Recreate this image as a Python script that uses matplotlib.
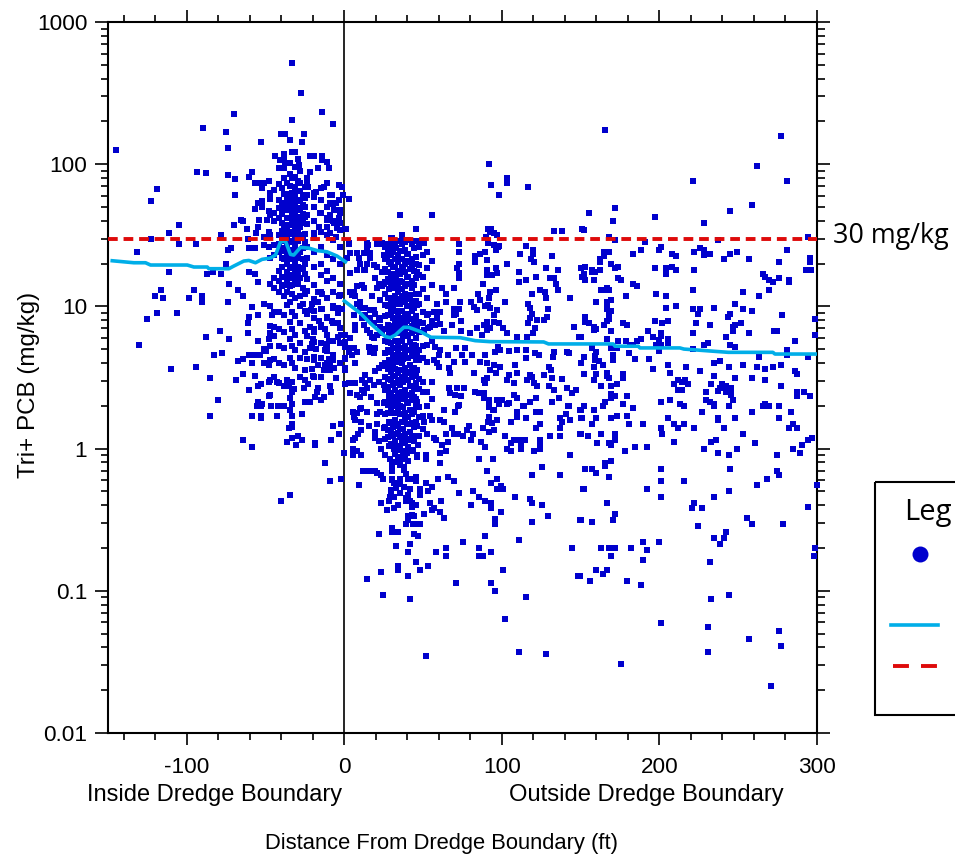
import numpy as np
import matplotlib
matplotlib.use('Agg')
import matplotlib.pyplot as plt
from matplotlib.patches import Rectangle
from matplotlib.ticker import LogLocator, NullFormatter, MultipleLocator

plt.rcParams['font.family'] = ['Liberation Sans', 'DejaVu Sans']
plt.rcParams['axes.unicode_minus'] = False

# all sample readings are (distance ft, log10 of Tri+ PCB mg/kg)
inside_points = [
(-32.9,2.71),(-27.8,2.50),(-13.9,2.366),(-70.3,2.353),(-32.9,2.31),(-6.9,2.282),(-89.4,2.254),(-75.4,2.226),
(-40.5,2.212),(-37.4,2.212),(-25.3,2.212),(-34.2,2.17),(-26.6,2.156),(-53.2,2.156),(-74.1,2.113),(-145.2,2.10),
(-44.3,2.057),(-38,2.07),(-38,2.04),(-33.1,2.088),(-31,2.088),(-29.1,2.04),(-21.5,2.057),(-19,2.057),(-13.9,2.057),
(-13.9,2.03),(-11,2.017),(-9.7,1.975),(-16.4,1.975),(-41,2.03),(-37.4,2.006),(-34.2,2.006),(-28.9,1.994),
(-41.6,1.975),(-21.5,1.947),(-58.9,1.947),(-93.2,1.947),(-88.1,1.94),(-74.1,1.924),(-60.2,1.91),(-69.1,1.895),
(-119.2,1.825),(-69.1,1.783),(-123,1.74),(-105.2,1.572),(-111.6,1.516),(-123,1.474),(-78.2,1.50),(-105.2,1.438),
(-94.4,1.438),(-131.9,1.382),(-74.1,1.396),(-71.8,1.41),(-60.2,1.41),(-57,1.41),(-61.2,1.474),(-75.4,1.298),
(-111.6,1.242),(-87,1.227),(-83.2,1.242),(-78.2,1.227),(-60.2,1.242),(-56.4,1.227),(-72.9,1.157),(-55.1,1.17),
(-67.8,1.115),(-64,1.073),(-116.6,1.115),(-120.4,1.073),(-115.4,1.06),(-95.7,1.115),(-98.9,1.06),(-90.6,1.073),
(-90.6,1.03),(-74.1,1.03),(-58.9,.993),(-50.7,1.016),(-65.3,1.61),(-64,1.60),(-61.5,1.544),(-70.3,1.572),
(-55,1.56),(-54.3,1.61),(-55.8,1.513),(-51,1.49),(-47.9,1.525),(-56.4,1.685),(-54.9,1.724),(-52.2,1.743),
(-52,1.70),(-46.9,1.755),(-47.9,1.67),(-56.4,1.87),(-53.2,1.87),(-51.1,1.87),(-48.1,1.884),(-52,1.835),
(-49,1.61),(-51,1.43),(-48,1.415),(-3.1,1.853),(-1.6,1.84),(-8.8,1.783),(-7.6,1.783),(-.8,1.783),
(-3.3,1.748),(-5.6,1.724),(-8.8,1.724),(-10.9,1.865),(-12.6,1.84),(-15,1.83),(-17.7,1.806),(-19.4,1.77),
(-23.6,1.90),(-22.8,1.84),(-2.5,1.678),(-2.5,1.584),(-6.7,1.678),(-8.8,1.642),(-3.7,1.62),(-6.7,1.584),
(-4.6,1.55),(-11,1.56),(-8.8,1.513),(-5.6,1.49),(-15.2,1.654),(-11,1.607),(-16.2,1.56),(-19.4,1.513),
(-119.2,.953),(-106.5,.953),(-125.5,.911),(-60.2,.925),(-61.4,.883),(-54.5,.939),(-45.6,.939),(-79.2,.827),
(-61.4,.813),(-88.1,.785),(-72.9,.77),(-54.5,.756),(-130.6,.728),(-48.1,.77),(-47,.815),(-44.9,.852),
(-50.7,.70),(-49.8,.686),(-53.4,.658),(-83,.658),(-77.9,.672),(-64,.63),(-67.8,.616),(-60.8,.658),(-57.6,.658),
(-58.9,.60),(-50.7,.60),(-48.1,.588),(-110.3,.56),(-94.4,.573),(-85.5,.496),(-69,.482),(-64,.524),(-56.4,.51),
(-53.2,.454),(-54.5,.44),(-60.2,.412),(-48.1,.468),(-43,.468),(-48.1,.37),(-80.5,.341),(-54.5,.327),(-52,.313),
(-55.5,.30),(-53.2,.30),(-46.8,.30),(-41.8,.30),(-38,.30),(-85.5,.229),(-58.9,.229),(-53.2,.229),(-53.2,.213),
(-43,.229),(-32.9,.229),(-26.6,.243),(-32.9,.313),(-34.2,.27),(-34.2,.353),(-33.3,.40),(-32,.416),(-22.8,.33),
(-24.9,.33),(-21.7,.33),(-18.5,.36),(-15.1,.34),(-12.6,.36),(-17.5,.40),(-16.4,.428),(-9.4,.44),(-8.2,.40),
(-32.9,.172),(-32.9,.153),(-35.4,.145),(-6.9,.158),(-1.8,.172),(-3.1,.102),(-32.9,.074),(-29.1,.088),(-26.6,.06),
(-36.7,.046),(-30.4,.025),(-18.9,.036),(-18.9,.022),(-8.2,.06),(-64,.06),(-58.9,.011),(-.5,-.03),(-12,-.10),
(-9.4,-.228),(-1.8,-.214),(-34.2,-.327),(-40.5,-.37),(-5.6,.496),(-20.2,.51),(-22.8,.454),(-24.9,.482),
(-36.7,.482),(-38,.44),(-35.4,.44),(-25.3,.425),(-13.2,.552),(-9,.552),(-6.3,.564),(-12.2,.587),(-9,.594),
(-10,.63),(-7.5,.62),(-19.2,.646),(-16.8,.587),(-20.6,.56),(-12.2,.693),(-10.9,.688),(-18,.70),(-11.8,.735),
(-9.6,.758),(-20.6,.735),(-21.7,.705),(-20.2,.77),(-4.3,.784),(-2.2,.80),(-12.2,.84),(-19,.84),(-21.7,.857),
(-15.1,.852),(-4.3,.883),(-8,.897),(-10.7,.925),(-15.8,.897),(-4.3,.951),(-6.9,.988),(-4.1,.988),(-1.6,.98),
(-13.9,.98),(-19.2,.967),(-21.4,.974),(-16.4,1.03),(-20.6,1.017),(-3.7,1.073),(-14.3,1.087),(-16.4,1.10),
]

# dense cloud just inside the boundary
inside_core_x = [-47,-44.5,-41.5,-39.7,-38,-36.4,-34.7,-33,-31,-29.7,-28,-26.4,-25,-23.5,-19,-15,-11,-7,-3]
inside_core_log = [
[1.80,1.64,1.50,1.34,1.16,1.00,.86,.72,.62,.48,.38],
[1.82,1.66,1.60,1.43,1.36,1.20,1.13,.96,.79,.63,.50],
[1.86,1.75,1.69,1.62,1.50,1.44,1.38,1.25,1.18,1.10,.96,.84,.72,.60,.46],
[1.83,1.72,1.65,1.59,1.53,1.47,1.41,1.34,1.28,1.21,1.14],
[1.97,1.90,1.79,1.73,1.68,1.57,1.51,1.46,1.39,1.33,1.21,1.15,1.07,.94,.82,.71,.59,.44],
[1.87,1.76,1.70,1.62,1.55,1.49,1.43,1.36,1.30,1.24,1.18,1.10,1.01],
[1.93,1.85,1.79,1.74,1.68,1.62,1.57,1.51,1.45,1.38,1.33,1.27,1.20,1.14,1.03,.89,.77,.64],
[1.90,1.80,1.75,1.70,1.64,1.58,1.52,1.46,1.40,1.34,1.28,1.22,1.15,1.09,.96,.84,.72,.60,.47],
[1.98,1.91,1.84,1.78,1.72,1.66,1.61,1.55,1.49,1.42,1.37,1.31,1.25,1.19,1.06,.93,.80,.69,.57],
[1.88,1.81,1.75,1.69,1.63,1.58,1.52,1.46,1.39,1.34,1.28,1.22,1.16],
[1.95,1.87,1.81,1.74,1.68,1.62,1.56,1.50,1.38,1.26,1.20,1.07,1.00,.88,.74,.64,.50],
[1.78,1.71,1.65,1.59,1.48,1.41,1.33,1.27,1.13,1.02],
[1.84,1.76,1.70,1.63,1.51,1.45,1.30,1.23,1.09,.97,.83,.68,.55],
[1.86,1.78,1.64,1.58,1.42,1.34,1.19,1.11,.95,.79,.63],
[1.80,1.70,1.60,1.48,1.38,1.28,1.15,1.05,.92,.82,.75,.62,.50],
[1.75,1.66,1.52,1.42,1.30,1.22,1.10,.98,.87,.74,.64,.50],
[1.70,1.62,1.50,1.36,1.25,1.18,1.06,.92,.80,.72,.60],
[1.72,1.60,1.47,1.33,1.20,1.10,1.00,.88,.76,.66],
[1.66,1.54,1.42,1.30,1.16,1.08,.98,.85,.74,.60],
]

near_points = [
(52,-1.46),(111,-1.43),(128,-1.444),(102,-1.20),(115.4,-1.043),(41.9,-1.057),(24.7,-1.03),(95.8,-1.00),(93.2,-.945),
(71,-.945),(14.6,-.917),(148.4,-.896),(40.6,-.896),(23.5,-.868),(34.2,-.825),(34.2,-.853),(48.2,-.853),(53.3,-.825),
(45.7,-.797),(100.8,-.853),(64.7,-.755),(85.6,-.755),(88.2,-.755),(40.6,-.727),(58.4,-.727),(93.2,-.727),(33,-.685),
(41.9,-.67),(64.7,-.70),(85.6,-.70),(144.6,-.70),(75.5,-.657),(111,-.643),(89.4,-.614),(22.2,-.60),(30.4,-.558),
(30.4,-.586),(32.3,-.586),(34.2,-.586),(44.4,-.60),(46.9,-.614),(39.3,-.53),(43.8,-.53),(46.3,-.53),(48.2,-.53),
(40.6,-.502),(43.1,-.467),(40.2,-.474),(44.4,-.474),(50.7,-.46),(63.4,-.488),(60.9,-.446),(95.8,-.495),(95.8,-.53),
(119.2,-.516),(129.4,-.474),(149.7,-.502),(99.6,-.446),(26.8,-.434),(31.7,-.417),(34.2,-.396),(23.5,-.382),(28.5,-.368),
(43.1,-.41),(45.7,-.396),(43.1,-.382),(39.3,-.368),(41.9,-.368),(54.5,-.382),(55.8,-.432),(57,-.415),(61.5,-.368),
(80.5,-.396),(93.2,-.382),(93.2,-.417),(119.2,-.382),(118,-.354),(125.6,-.396),(89.4,-.368),(85.6,-.34),(108.5,-.34),
(29.2,-.34),(31.7,-.34),(40.6,-.326),(39.3,-.35),(48.2,-.326),(73,-.312),(81.8,-.298),(97,-.284),(99.6,-.263),(100.8,-.284),
(151.6,-.284),(29.8,-.29),(29.8,-.32),(33,-.28),(35.5,-.31),(41.9,-.284),(38,-.267),(48.2,-.284),(53.3,-.298),(55.8,-.27),
(9.5,-.256),(52,-.242),(35.5,-.249),(31.7,-.24),(30.4,-.22),(93.2,-.242),(24.7,-.214),(30.4,-.214),(35.5,-.214),(40.6,-.214),
(45.7,-.2),(45.7,-.228),(43,-.214),(59.6,-.214),(66,-.2),(69.8,-.228),(97,-.214),(119.2,-.186),(137,-.186),(90.7,-.157),
(125.6,-.13),(12,-.157),(14.6,-.157),(17.1,-.157),(19.7,-.157),(20.9,-.171),(23.5,-.186),(30.4,-.157),(38,-.15),(39.3,-.178),
(30.4,-.115),(35.5,-.115),(38,-.127),(60.9,-.10),(40.6,-.087),(29.2,-.073),(31.7,-.094),(34.9,-.057),(85.6,-.073),(94.5,-.073),
(143.3,-.045),(5.7,-.045),(10.8,-.045),(26,-.045),(46.3,-.045),(52,-.045),(52,-.073),(46.3,-.061),(60.9,-.03),(5.7,-.003),
(8.2,-.017),(23.5,-.003),(31.7,-.003),(35.5,.014),(40.2,-.014),(43.3,-.01),(64.7,-.017),(103.4,-.003),(106,-.017),(112.3,-.003),
(112.3,.018),(120.5,-.017),(124.3,-.003),(89.4,.01),(62.2,.026),(66,.044),(47,.026),(86.9,.047),(105.7,.04),(107.8,.06),
(111,.06),(114.8,.06),(124.3,.06),(124.3,.04),(5.7,.06),(7,.077),(19.7,.075),(22.2,.05),(57,.077),(58.4,.06),(80.5,.06),
(75.5,.09),(81.8,.10),(102,.09),(130.7,.09),(137,.09),(149.7,.10),(64.7,.10),(69.8,.10),(72.3,.10),(8.9,.10),(10.8,.13),
(19.7,.117),(78,.13),(79.3,.16),(88.2,.145),(92,.117),(95,.13),(121.8,.145),(124.3,.173),(137,.145),(68.5,.145),(15.9,.16),
(21,.173),(25.4,.143),(50.7,.187),(55.8,.20),(60.9,.20),(63.4,.187),(54.5,.23),(92,.22),(91,.187),(94,.178),(97,.20),(106,.187),
(115.4,.215),(137,.215),(138.3,.187),(143.3,.20),(150.5,.215),(109.7,.258),(109.7,.23),(121.8,.258),(140.8,.244),(149.7,.27),
(142,.30),(113.5,.30),(92,.30),(94.5,.27),(98.3,.314),(103.4,.314),(118,.328),(131.9,.328),(72.3,.30),(70.4,.258),(63.4,.27),
(5.7,.258),(8.2,.25),(7,.20),(10.6,.187),(10.8,.286),(14.6,.258),(21,.244),
# upper half of the same band
(92,2.0),(103.4,1.903),(103.4,1.87),(93.2,1.854),(116.7,1.84),(98.3,1.784),(3.2,1.755),(3,1.755),(35.6,1.642),(35.5,1.643),
(55.8,1.643),(45.7,1.544),(1,1.544),(.7,1.544),(90.9,1.544),(93.4,1.544),(133.2,1.53),(138.3,1.53),(151,1.544),(90,1.49),
(92.4,1.52),(94.7,1.514),(97,1.50),(29.6,1.48),(73,1.44),(115.2,1.425),(91.3,1.448),(95.1,1.43),(97.3,1.42),(21,1.44),
(24.3,1.44),(14.8,1.43),(3.2,1.44),(37,1.47),(50.7,1.444),(49,1.46),(30,1.48),(98,1.425),(96,1.40),(73,1.38),(119.7,1.40),
(119.7,1.37),(118.4,1.33),(120.5,1.315),(111.7,1.37),(132,1.355),(89.5,1.38),(86.3,1.37),(83,1.355),(83,1.315),(90.7,1.327),
(103.4,1.30),(73,1.30),(71.5,1.27),(73,1.233),(73,1.20),(90.7,1.256),(90.7,1.22),(96,1.27),(97,1.233),(93.7,1.22),(111,1.242),
(128,1.27),(135.8,1.256),(121.8,1.21),(115.5,1.186),(111,1.17),(130.7,1.20),(133,1.20),(134.5,1.158),(135.8,1.116),(88.2,1.158),
(69.8,1.13),(62.2,1.13),(64.7,1.088),(96,1.116),(92.6,1.104),(91.6,1.057),(91,1.01),(84.6,1.088),(86,1.045),(80.4,1.03),(82,.994),
(84.2,.975),(119.3,1.088),(124.4,1.116),(127.5,1.104),(128,1.057),(143.4,1.06),(102,1.03),(89.5,1.003),(92.6,.987),(97,.975),
(94.7,.94),(116.7,1.017),(118,.987),(118.8,.95),(118,.916),(116.7,.88),(129.4,.982),(69.8,.982),(72.5,.982),(71,.95),(69.4,.94),
(64.7,1.03),(73.2,1.03),(58.8,1.02),(61,.963),(56.7,.963),(53,.95),(58.8,.916),(74.2,.898),(68.5,.87),(61,.877),(57.8,.87),
(54.6,.858),(50.4,.834),(53,.846),(63.5,.827),(74.2,.827),(79.5,.813),(90.5,.893),(94.7,.893),(98,.88),(88.4,.87),(84.2,.846),
(87.4,.80),(92.6,.846),(90.5,.834),(101,.846),(103.2,.81),(109.5,.788),(116,.788),(122,.905),(126.5,.905),(128.6,.928),(121.2,.846),
(119.7,.81),(146,.855),(149,.788),(133,.677),(132.4,.642),(141.3,.68),(142.3,.67),(109.5,.694),(115,.694),(115,.635),(104.7,.687),
(121,.67),(123.3,.66),(108.5,.588),(129.6,.577),(131,.553),(97.7,.717),(98.6,.694),(95.8,.68),(89.5,.66),(86.3,.61),(90.5,.60),
(94.7,.588),(99,.577),(92.6,.553),(96,.53),(90.5,.495),(88.4,.483),(89.5,.46),(71,.705),(76.8,.705),(74.7,.66),(81,.66),(76.8,.61),
(66,.66),(69.4,.61),(66.2,.565),(67.3,.53),(82,.532),(57.8,.717),(61,.694),(60,.66),(56.7,.623),(58.8,.60),(60,.577),(104.3,.516),
(109.5,.53),(103.2,.483),(107.4,.46),(118,.516),(119,.505),(126.5,.516),(116,.483),(120.1,.46),(131.7,.495),(138.1,.487),(122.2,.443),
(129.6,.443),(132.8,.41),(141.3,.424),(144.4,.39),(147.2,.41),(66.2,.424),(71.5,.424),(75.7,.424),(67.3,.39),(70.4,.377),(74,.37),
(83,.40),(88.4,.39),(85.2,.39),(88.4,.354),(91.6,.342),(97,.342),(100,.342),(104.3,.32),(107.4,.377),(109.5,.354),(113.8,.302),
(118,.33),(121.8,.354),(131.7,.33),(136,.358),(142.3,.302),(91.6,.295),(94.7,.27),(109.5,.26),(109.5,.225),(122.2,.26),(124.4,.26),
(70.4,.26),(72.5,.306),
# flank between the boundary and the dense column
(2.8,1.444),(14.4,1.444),(14.4,1.41),(20.8,1.444),(24,1.444),(3.8,1.374),(8,1.374),(12.3,1.374),(16.5,1.374),(1.7,1.338),(9,1.338),
(16.5,1.338),(10.2,1.30),(14.4,1.30),(18.6,1.29),(20.8,1.28),(12.3,1.256),(8,1.256),(3.8,1.233),(13.4,1.256),(19.7,1.20),(24,1.245),
(27,1.35),(25,1.36),(24,1.14),(21.8,1.16),(25,1.16),(20.8,1.13),(8,1.14),(11.2,1.15),(12.3,1.127),(6,1.104),(3.8,1.104),(7,1.07),
(5,1.08),(17.6,1.07),(22.8,1.045),(10.2,1.034),(8,1.02),(13.4,.987),(10.2,.987),(18.6,.975),(16.5,.975),(19.7,.95),(13.4,.94),
(16.5,.916),(11.2,.916),(6,.94),(21.8,.916),(18.6,.88),(7,.87),(7,.834),(12.3,.87),(14.4,.834),(16.5,.81),(18.6,.775),(20.8,.80),
(3.8,.775),(17.6,.788),(22.8,.857),(22.8,.905),(24,.81),(.7,.80),(.7,.75),(.7,.635),(.7,.55),(3.8,.705),(2.8,.68),(6,.705),(8,.68),
(5,.66),(15.5,.717),(16.5,.68),(19.7,.705),(18.6,.67),(7,.60),(19.7,.548),(24,.588),(26,.60),(21.8,.565),(13.4,.517),(11.2,.483),
(13.4,.46),(16.5,.483),(21.8,.47),(2.8,.46),(7,.46),(11.2,.41),(14.4,.424),(18.6,.448),(25,.448),(3.8,.39),(8,.377),(12.3,.39),
(10.2,.366),(17,.36),(20.8,.32),(25,.32),(10.2,.28),(5.5,.26),(6.4,.225),(14.4,.26),(22.8,.26),(.6,.454),(.7,.552),(.7,.57),(.7,.63),
(.7,.752),(.7,.716),
]

# dense column just outside the boundary
near_core_x = [25.5,27.5,28.6,29.7,31,32,33,34.1,35.2,36.3,37.4,38.5,39.6,40.7,41.8,43,44.1,45.2,46.4,47.5,50,52.5,55.5]
near_core_log = [
[1.42,1.33,1.26,1.17,1.09,1.01,.93,.84,.76,.67,.58,.50,.41,.33,.24,.15,.07],
[1.38,1.24,1.19,1.06,1.00,.94,.87,.75,.69,.56,.49,.43,.31,.25,.13,.08],
[1.44,1.31,1.12,.81,.62,.37,.19,.02],
[1.41,1.36,1.30,1.20,1.15,1.04,.99,.95,.84,.79,.74,.68,.58,.54,.48,.39,.33,.28,.18,.12,.03],
[1.38,1.28,1.23,1.17,1.06,1.01,.92,.86,.81,.71,.65,.60,.51,.45,.36,.30,.25,.15,.09],
[1.44,1.33,1.28,1.18,1.13,1.07,.97,.91,.87,.76,.71,.61,.56,.51,.41,.35,.25,.20,.10,.05,-.04],
[1.41,1.21,1.02,.82,.66,.46,.31,.16,.01],
[1.46,1.36,1.31,1.25,1.15,1.10,1.05,.94,.90,.84,.73,.69,.64,.53,.48,.37,.33,.27,.17,.11,.02,-.08],
[1.39,1.33,1.23,1.18,1.12,1.02,.97,.87,.81,.76,.66,.61,.55,.45,.39,.30,.24,.14,.08,-.01],
[1.50,1.44,1.33,1.28,1.17,1.12,1.07,.97,.92,.86,.76,.71,.60,.55,.50,.40,.35,.24,.19,.09,.04,-.07],
[1.39,1.26,1.05,.90,.79,.63,.47,.29,.14,-.02],
[1.45,1.40,1.30,1.24,1.14,1.09,1.03,.93,.88,.83,.72,.67,.57,.51,.41,.36,.25,.20,.10,.05,-.05],
[1.37,1.32,1.21,1.16,1.06,1.00,.90,.85,.80,.69,.64,.54,.48,.38,.33,.22,.17,.07,-.03],
[1.47,1.37,1.31,1.21,1.16,1.05,1.00,.95,.85,.79,.69,.64,.53,.48,.38,.32,.22,.17,.06,.01],
[1.26,1.08,.91,.75,.59,.44,.27,.12],
[1.44,1.33,1.28,1.18,1.13,1.02,.97,.86,.81,.71,.65,.55,.50,.39,.34,.24,.18,.08,-.02],
[1.41,1.30,1.25,1.15,1.04,.99,.89,.83,.73,.68,.57,.52,.42,.36,.26,.15,.05],
[1.46,1.35,1.30,1.20,1.09,1.04,.93,.88,.78,.72,.62,.51,.46,.35,.30,.19,.09],
[1.24,1.01,.85,.66,.55,.33,.16],
[1.42,1.29,1.22,1.09,1.02,.89,.82,.69,.62,.49,.42,.29,.22,.09],
[1.45,1.36,1.21,1.12,.96,.88,.72,.64,.47,.40,.23,.14],
[1.38,1.27,1.06,.94,.73,.61,.40,.30,.10],
[1.32,1.15,.90,.76,.47,.35],
]

far_points = [
(165.5,2.24),(277,2.20),(262,1.99),(221,1.88),(281,1.88),(259,1.71),(245,1.67),(172,1.69),(155,1.66),(170.5,1.60),(197,1.63),(228,1.59),
(152,1.54),(168,1.49),(172,1.47),(191,1.45),(237,1.47),(294,1.49),(201,1.42),(200,1.40),(188,1.40),(165,1.38),(168,1.38),(165,1.355),
(183,1.37),(208,1.37),(210.5,1.355),(222,1.38),(226,1.41),(228,1.40),(228,1.36),(232,1.37),(245,1.37),(249,1.38),(281,1.40),(162,1.33),
(162,1.31),(241,1.33),(257,1.33),(276,1.31),(295.5,1.34),(295.5,1.31),(153,1.28),(150.5,1.27),(169,1.30),(172,1.27),(174,1.28),(197,1.27),
(208,1.28),(204,1.27),(204,1.255),(204,1.23),(210.5,1.255),(222,1.255),(157,1.255),(157,1.24),(159,1.24),(162,1.255),(152,1.23),(150.6,1.21),
(153,1.185),(158.5,1.185),(174,1.20),(175.6,1.185),(183,1.16),(186,1.14),(266,1.23),(267,1.21),(269.5,1.185),(272,1.17),(276,1.20),(282,1.185),
(282,1.17),(293,1.255),(296,1.255),(163,1.115),(165,1.115),(168,1.115),(167,1.13),(179,1.07),(198,1.09),(204,1.07),(221,1.115),(253,1.10),
(263,1.07),(269.5,1.115),(160,1.03),(167,1.03),(169,1.045),(167,1.00),(167,.98),(169,.97),(204,.99),(210.5,1.00),(221,.98),(224.5,.95),(226,.98),
(234.6,.99),(248,1.02),(253,.98),(259,.97),(278,.94),(245,.95),(243.5,.925),(168,.94),(168,.91),(167,.90),(153,.925),(153,.89),(155,.88),(165,.87),
(177,.88),(179.4,.87),(197,.90),(201.6,.88),(205.4,.90),(223,.88),(232,.87),(248,.87),(252,.88),(246.6,.855),(246.6,.83),(299,.91),(158.5,.855),
(158.5,.835),(160,.84),(169,.83),(193,.83),(201,.81),(201,.79),(221,.81),(257,.81),(273,.83),(274.6,.83),(299,.80),(150,.785),(196,.785),(242,.785),
(167,.77),(174,.757),(179,.757),(186,.757),(188,.77),(200,.765),(205.4,.77),(205.4,.74),(286,.757),(231,.74),(228,.73),(245,.73),(248,.715),(181,.73),
(183,.73),(198,.73),(201,.73),(157,.71),(169,.71),(173,.71),(221,.70),(281,.69),
(152,.644),(159,.65),(159,.62),(160,.68),(170.5,.66),(170.5,.62),(180.7,.67),(161.6,.616),(150,.60),(184.5,.63),(193.4,.63),(200,.686),(164,.59),
(158.5,.573),(196,.56),(205.4,.587),(217,.573),(225.7,.545),(234.6,.60),(238.4,.616),(244,.573),(253,.587),(262,.573),(267,.56),(272,.573),(277,.587),
(286,.545),(287,.524),(263,.644),(294,.644),(281,.66),(152,.524),(160,.524),(167,.53),(167,.51),(168,.496),(177,.524),(177,.496),(158.5,.48),(206.7,.53),
(234.6,.51),(248,.496),(259,.496),(267,.48),(163,.44),(169,.44),(173,.454),(209,.454),(212,.48),(216,.48),(214.3,.468),(218,.454),(212,.412),(214.3,.412),
(233,.454),(239.7,.454),(242,.44),(238.4,.426),(237,.405),(245.4,.426),(245.4,.398),(242,.398),(245.4,.377),(229.5,.398),(277,.44),(287,.398),(287,.37),
(291.7,.398),(295.5,.37),(169,.384),(169,.355),(172,.37),(179.4,.37),(165.5,.327),(164,.30),(177,.313),(183,.285),(152,.30),(150,.27),(158.5,.27),
(201,.327),(206.7,.34),(213,.313),(215.6,.30),(229.5,.34),(232,.327),(234.6,.313),(234.6,.30),(246.6,.34),(244,.30),(265.7,.30),(267,.313),(269.5,.30),
(276,.30),(227,.257),(259,.257),(283.4,.257),(151,.215),(160,.215),(169,.215),(173,.229),(179.4,.229),(205.4,.215),(237,.215),(237,.20),(248,.215),
(276,.215),(157,.173),(180.7,.173),(189.6,.173),(209,.173),(211.8,.145),(215.6,.173),(201,.145),(201.6,.10),(222,.145),(241,.145),(284.7,.173),(282,.145),
(287,.145),(150,.10),(154.7,.088),(163,.10),(172,.10),(172,.06),(253,.10),(160.4,.04),(168,.04),(169,.025),(209,.046),(236,.06),(233,.046),(260.6,.04),
(296.7,.074),(294,.06),(290.4,.025),(184.5,.011),(192,.011),(178,-.017),(228,-.003),(249,-.003),(284.7,-.003),(237,-.03),(244,-.045),(274.5,-.045),
(289,-.03),(169,-.088),(165.5,-.10),(165.5,-.123),(153,-.144),(157,-.144),(160,-.172),(201,-.144),(245,-.144),(274.5,-.158),(276,-.186),(168,-.20),
(268,-.214),(201,-.228),(215.6,-.228),(262,-.256),(152,-.285),(192,-.285),(300,-.256),(244,-.298),(201,-.34),(234.6,-.34),(166.7,-.383),(222,-.383),
(220.6,-.418),(227,-.418),(294,-.411),(172,-.46),(255.5,-.488),(150,-.50),(157,-.517),(170.5,-.50),(259,-.53),(278.4,-.53),(224.5,-.545),(242,-.587),
(234.6,-.63),(241,-.63),(238.4,-.67),(189.6,-.657),(199.7,-.657),(163,-.70),(168,-.70),(172,-.70),(182,-.70),(192,-.713),(299,-.70),(298,-.756),
(169,-.756),(189.6,-.784),(232,-.80),(160,-.854),(166.7,-.854),(164,-.882),(149.6,-.896),(156,-.93),(179.4,-.93),(188,-.96),(244,-1.03),(233,-1.058),
(201,-1.227),(231,-1.255),(276,-1.283),(257,-1.34),(277,-1.39),(231,-1.43),(175.6,-1.515),(270.7,-1.67),
]

# moving geometric mean, one line each side of the boundary
inside_mean_x = [-147.3,-133.6,-126.2,-123,-99.7,-95.5,-87,-86,-73.3,-70.1,-63.8,-60.6,-56.4,-52.2,-46.9,-43.7,-40.5,-37.4,-34.2,-32.1,-27.8,-22.6,-17.2,-11,-4.6,.7]
inside_mean_log = [1.321,1.307,1.307,1.291,1.291,1.277,1.277,1.265,1.265,1.284,1.319,1.323,1.307,1.331,1.34,1.361,1.455,1.46,1.366,1.361,1.415,1.41,1.392,1.384,1.354,1.314]
outside_mean_x = [0,10.2,16.5,26,29.2,32.4,37.7,40.8,48.2,55,73.6,83.1,92.6,126.5,129.6,170.7,171.8,186.6,187.6,213,215.5,243.7,272,273.3,299.7]
outside_mean_log = [1.038,.952,.881,.788,.78,.799,.853,.853,.823,.783,.78,.759,.752,.75,.736,.736,.72,.72,.708,.708,.70,.677,.677,.665,.665]

threshold = 30
y_ticks = [0.01, 0.1, 1, 10, 100, 1000]
y_labels = ['0.01', '0.1', '1', '10', '100', '1000']
x_ticks = [-100, 0, 100, 200, 300]

blue = '#0000CD'
cyan = '#00AEE8'
red = '#DE0A0A'

xs, logs = [], []
for pts in (inside_points, near_points, far_points):
    xs += [p[0] for p in pts]
    logs += [p[1] for p in pts]
for col_x, col_logs in list(zip(inside_core_x, inside_core_log)) + list(zip(near_core_x, near_core_log)):
    xs += [col_x] * len(col_logs)
    logs += col_logs
xs = np.array(xs)
pcb = 10.0 ** np.array(logs)

fig = plt.figure(figsize=(9.55, 8.55), dpi=100)
ax = fig.add_axes([108 / 955, 1 - 733 / 855, (817 - 108) / 955, (733 - 22) / 855])
ax.set_yscale('log')
ax.set_xlim(-150, 300)
ax.set_ylim(0.01, 1000)

ax.axvline(0, color='black', lw=1.2, zorder=2)
ax.scatter(xs, pcb, marker='s', s=22, color=blue, linewidths=0, zorder=3, clip_on=False)
ax.plot(inside_mean_x, 10.0 ** np.array(inside_mean_log), color=cyan, lw=2.6, zorder=4)
ax.plot(outside_mean_x, 10.0 ** np.array(outside_mean_log), color=cyan, lw=2.6, zorder=4)
ax.plot([-150, 300], [threshold, threshold], color=red, lw=2.8, dashes=(2.5, 1.5), dash_capstyle='butt', zorder=5)

for side in ax.spines.values():
    side.set_linewidth(1.5)
ax.set_xticks(x_ticks)
ax.xaxis.set_minor_locator(MultipleLocator(20))
ax.set_yticks(y_ticks)
ax.set_yticklabels(y_labels)
ax.yaxis.set_minor_locator(LogLocator(base=10, subs=np.arange(2, 10), numticks=20))
ax.yaxis.set_minor_formatter(NullFormatter())
ax.tick_params(axis='both', which='both', direction='out', top=True, right=True, width=1.2)
ax.tick_params(axis='x', which='major', length=8.6, labelsize=16.2, pad=8.5)
ax.tick_params(axis='x', which='minor', length=4.7)
ax.tick_params(axis='y', which='major', length=9.4, labelsize=16.2, pad=5.5)
ax.tick_params(axis='y', which='minor', length=5.4)

ax.set_xlabel('Distance From Dredge Boundary (ft)', fontsize=15.8, x=0.47, labelpad=40)
ax.set_ylabel('Tri+ PCB (mg/kg)', fontsize=17.4, y=0.49, labelpad=-2)

# pixel overlay for the side notes and the legend box that runs off the page
over = fig.add_axes([0, 0, 1, 1], facecolor='none')
over.set_xlim(0, 955)
over.set_ylim(855, 0)
over.axis('off')
over.text(215, 795, 'Inside Dredge Boundary', fontsize=17, ha='center', va='center')
over.text(646.5, 795, 'Outside Dredge Boundary', fontsize=17.1, ha='center', va='center')
over.text(833, 236, '30 mg/kg', fontsize=19.4, family=['Open Sans', 'DejaVu Sans'], ha='left', va='center')
over.add_patch(Rectangle((875, 481.5), 200, 233.5, fill=False, edgecolor='black', lw=1.5, clip_on=True))
over.text(904, 512, 'Leg', fontsize=21, family=['Open Sans', 'DejaVu Sans'], ha='left', va='center')
over.plot([919.5], [554], marker='o', ms=11.5, color=blue, mew=0)
over.plot([891, 938], [625, 625], color=cyan, lw=2.6)
over.plot([893, 938], [666, 666], color=red, lw=2.8, dashes=(4.1, 3.1), dash_capstyle='butt')

fig.savefig('out.png', dpi=100)
